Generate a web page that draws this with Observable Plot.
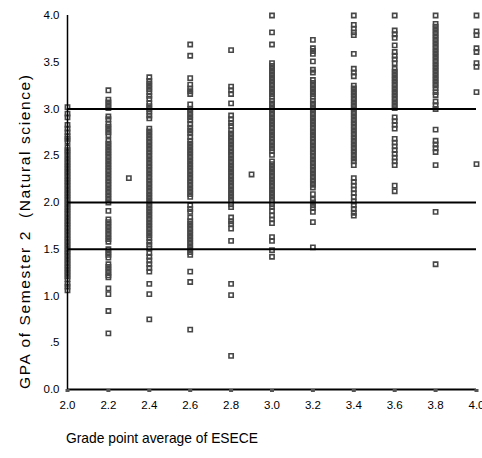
<!DOCTYPE html>
<html>
<head>
<meta charset="utf-8">
<script src="https://cdn.jsdelivr.net/npm/d3@7"></script>
<script src="https://cdn.jsdelivr.net/npm/@observablehq/plot@0.6"></script>
<style>
  html, body { margin: 0; padding: 0; background: #fff; }
  #chart svg { display: block; }
</style>
</head>
<body>
<div id="chart"></div>
<script>
// Semester 2 natural-science GPA, grouped by ESECE grade point average
const gpa20 = [3.02, 2.95, 2.91, 2.83, 2.79, 2.75, 2.71, 2.68, 2.65, 2.59, 2.56, 2.53, 2.50, 2.47, 2.44, 2.41, 2.38, 2.35, 2.32, 2.29, 2.26, 2.23, 2.20, 2.17, 2.14, 2.11, 2.08, 2.05, 2.02, 1.99, 1.96, 1.93, 1.90, 1.87, 1.84, 1.81, 1.78, 1.75, 1.72, 1.69, 1.66, 1.63, 1.60, 1.57, 1.54, 1.51, 1.48, 1.45, 1.42, 1.39, 1.36, 1.33, 1.30, 1.27, 1.24, 1.21, 1.18, 1.13, 1.10, 1.06];
const gpa22 = [3.20, 3.10, 3.07, 3.04, 3.01, 2.92, 2.89, 2.84, 2.81, 2.78, 2.75, 2.72, 2.66, 2.63, 2.60, 2.57, 2.54, 2.51, 2.48, 2.45, 2.42, 2.39, 2.36, 2.33, 2.30, 2.27, 2.24, 2.21, 2.18, 2.15, 2.12, 2.09, 2.06, 2.03, 2.00, 1.91, 1.82, 1.79, 1.76, 1.73, 1.70, 1.67, 1.64, 1.61, 1.58, 1.50, 1.47, 1.44, 1.41, 1.34, 1.31, 1.28, 1.25, 1.22, 1.20, 1.08, 1.02, 0.84, 0.60];
const gpa24 = [3.34, 3.30, 3.27, 3.24, 3.21, 3.18, 3.14, 3.11, 3.06, 3.03, 3.00, 2.97, 2.93, 2.90, 2.79, 2.76, 2.73, 2.70, 2.67, 2.64, 2.61, 2.58, 2.55, 2.52, 2.49, 2.46, 2.43, 2.40, 2.37, 2.34, 2.31, 2.28, 2.25, 2.22, 2.19, 2.16, 2.13, 2.10, 2.07, 2.04, 2.01, 1.98, 1.95, 1.92, 1.89, 1.86, 1.83, 1.80, 1.77, 1.74, 1.71, 1.68, 1.65, 1.62, 1.58, 1.55, 1.51, 1.46, 1.42, 1.38, 1.34, 1.30, 1.26, 1.13, 1.02, 0.75];
const gpa26 = [3.69, 3.57, 3.33, 3.26, 3.22, 3.19, 3.16, 3.05, 3.00, 2.97, 2.94, 2.91, 2.88, 2.84, 2.80, 2.77, 2.74, 2.70, 2.66, 2.63, 2.60, 2.57, 2.54, 2.51, 2.48, 2.45, 2.42, 2.39, 2.36, 2.33, 2.30, 2.27, 2.24, 2.21, 2.18, 2.15, 2.12, 2.09, 2.06, 1.97, 1.93, 1.90, 1.84, 1.80, 1.77, 1.74, 1.71, 1.68, 1.65, 1.62, 1.59, 1.56, 1.53, 1.50, 1.47, 1.44, 1.26, 1.15, 0.64];
const gpa28 = [3.63, 3.24, 3.20, 3.16, 3.06, 2.93, 2.89, 2.85, 2.82, 2.77, 2.74, 2.71, 2.68, 2.65, 2.62, 2.59, 2.56, 2.53, 2.50, 2.47, 2.44, 2.41, 2.38, 2.35, 2.32, 2.29, 2.26, 2.23, 2.20, 2.17, 2.14, 2.11, 2.08, 2.05, 2.02, 1.98, 1.95, 1.84, 1.80, 1.77, 1.72, 1.59, 1.13, 1.01, 0.36];
const gpa30 = [4.00, 3.82, 3.69, 3.49, 3.46, 3.43, 3.40, 3.37, 3.34, 3.31, 3.28, 3.25, 3.22, 3.19, 3.16, 3.13, 3.09, 3.06, 3.03, 3.00, 2.97, 2.94, 2.91, 2.88, 2.85, 2.82, 2.79, 2.76, 2.73, 2.70, 2.67, 2.64, 2.61, 2.58, 2.55, 2.51, 2.44, 2.41, 2.38, 2.35, 2.32, 2.29, 2.26, 2.23, 2.20, 2.17, 2.14, 2.11, 2.08, 2.05, 2.02, 1.98, 1.95, 1.91, 1.86, 1.82, 1.78, 1.63, 1.59, 1.49, 1.42];
const gpa32 = [3.74, 3.65, 3.62, 3.59, 3.51, 3.42, 3.39, 3.31, 3.28, 3.25, 3.22, 3.19, 3.16, 3.13, 3.09, 3.06, 3.03, 3.00, 2.97, 2.94, 2.91, 2.88, 2.85, 2.82, 2.79, 2.76, 2.73, 2.70, 2.67, 2.64, 2.61, 2.58, 2.55, 2.52, 2.49, 2.46, 2.43, 2.40, 2.37, 2.34, 2.31, 2.28, 2.25, 2.22, 2.19, 2.16, 2.09, 2.03, 2.00, 1.97, 1.94, 1.90, 1.79, 1.52];
const gpa34 = [4.00, 3.90, 3.86, 3.82, 3.79, 3.59, 3.43, 3.39, 3.35, 3.25, 3.22, 3.19, 3.16, 3.13, 3.10, 3.07, 3.04, 3.01, 2.98, 2.95, 2.92, 2.89, 2.86, 2.83, 2.80, 2.77, 2.74, 2.71, 2.68, 2.65, 2.62, 2.59, 2.56, 2.53, 2.50, 2.47, 2.44, 2.40, 2.26, 2.22, 2.18, 2.14, 2.10, 2.06, 2.01, 1.97, 1.93, 1.89, 1.86];
const gpa36 = [4.00, 3.84, 3.80, 3.76, 3.68, 3.61, 3.57, 3.53, 3.49, 3.43, 3.40, 3.37, 3.34, 3.31, 3.28, 3.25, 3.22, 3.19, 3.16, 3.13, 3.10, 3.07, 3.04, 3.01, 2.91, 2.87, 2.83, 2.79, 2.68, 2.64, 2.60, 2.56, 2.52, 2.48, 2.44, 2.40, 2.18, 2.12];
const gpa38 = [4.00, 3.91, 3.88, 3.85, 3.82, 3.79, 3.76, 3.73, 3.70, 3.67, 3.64, 3.61, 3.58, 3.55, 3.52, 3.49, 3.46, 3.43, 3.40, 3.37, 3.34, 3.31, 3.28, 3.25, 3.22, 3.18, 3.15, 3.08, 3.04, 3.00, 2.78, 2.66, 2.62, 2.58, 2.54, 2.40, 1.90, 1.34];
const gpa40 = [4.00, 3.83, 3.79, 3.65, 3.61, 3.49, 3.45, 3.18, 2.41];

// a few students whose ESECE average falls between the grid values
const oddEsece = [2.3, 2.9];
const oddGpa = [2.26, 2.30];

const eseceLevels = [2.0, 2.2, 2.4, 2.6, 2.8, 3.0, 3.2, 3.4, 3.6, 3.8, 4.0];
const gpaColumns = [gpa20, gpa22, gpa24, gpa26, gpa28, gpa30, gpa32, gpa34, gpa36, gpa38, gpa40];

// reference lines across the plot
const refLines = [3.0, 2.0, 1.5];

const xTicks = [2.0, 2.2, 2.4, 2.6, 2.8, 3.0, 3.2, 3.4, 3.6, 3.8, 4.0];
const yTicks = [0, 0.5, 1.0, 1.5, 2.0, 2.5, 3.0, 3.5, 4.0];
const yTickLabels = ["0.0", ".5", "1.0", "1.5", "2.0", "2.5", "3.0", "3.5", "4.0"];

const xTitle = "Grade point average of ESECE";
const yTitle = "GPA of Semester 2  (Natural science)";

const points = [];
eseceLevels.forEach((x, i) => gpaColumns[i].forEach(y => points.push({x, y})));
oddEsece.forEach((x, i) => points.push({x, y: oddGpa[i]}));

const font = "'Liberation Sans', Arial, sans-serif";

const chart = Plot.plot({
  width: 482,
  height: 458,
  marginLeft: 67,
  marginRight: 6,
  marginTop: 15,
  marginBottom: 69,
  style: {fontFamily: font, fontSize: "11.5px", background: "#fff", color: "#000"},
  x: {domain: [2, 4], axis: null},
  y: {domain: [0, 4], axis: null},
  marks: [
    Plot.dot(points, {x: "x", y: "y", symbol: "square", r: 2.4, stroke: "#474747", strokeWidth: 1.6, fill: "none"}),
    Plot.ruleY(refLines, {x1: 2, x2: 4, stroke: "#000", strokeWidth: 2}),
    Plot.ruleX([2], {y1: 0, y2: 4, stroke: "#000", strokeWidth: 1.5}),
    Plot.ruleY([0], {x1: 2, x2: 4, stroke: "#000", strokeWidth: 2}),
    Plot.axisX(xTicks, {
      tickSize: 3, tickPadding: 8, stroke: "#555", strokeWidth: 4,
      tickFormat: d => d.toFixed(1), fill: "#000", fontSize: 11.5, label: null
    }),
    Plot.axisY(yTicks, {
      tickSize: 0, tickPadding: 8,
      tickFormat: d => yTickLabels[yTicks.indexOf(d)], fill: "#000", fontSize: 11.5, label: null
    })
  ]
});

// axis titles
const svg = d3.select(chart);
svg.append("text")
  .attr("x", 66).attr("y", 443)
  .attr("text-anchor", "start")
  .attr("font-family", font).attr("font-size", 14.5)
  .attr("textLength", 192).attr("lengthAdjust", "spacingAndGlyphs")
  .attr("fill", "#000")
  .text(xTitle);
svg.append("text")
  .attr("transform", "translate(30,232) rotate(-90)")
  .attr("text-anchor", "middle")
  .attr("font-family", font).attr("font-size", 15.5)
  .attr("textLength", 314).attr("lengthAdjust", "spacing")
  .attr("fill", "#000")
  .text(yTitle);

document.getElementById("chart").append(chart);
</script>
</body>
</html>
